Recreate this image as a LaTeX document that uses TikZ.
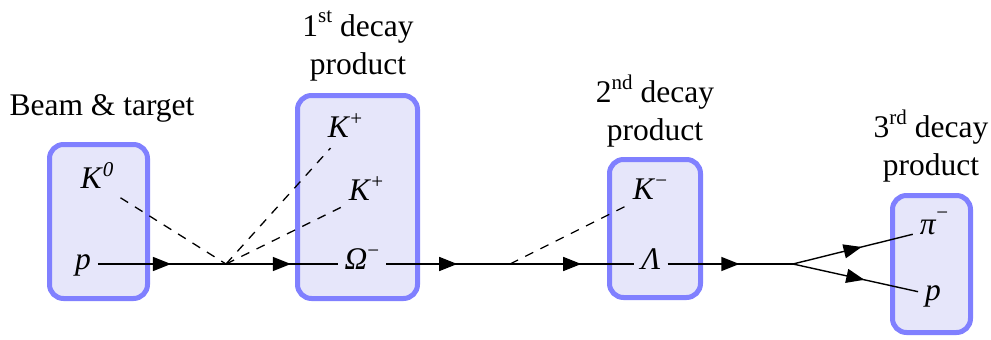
\documentclass[tikz,border=0pt]{standalone}
\usepackage{fontspec}
\setmainfont{Liberation Serif}
\usetikzlibrary{decorations.markings}
\definecolor{boxborder}{HTML}{8080FF}
\definecolor{boxfill}{HTML}{E6E6FA}
\newcommand\upsc[2][0.36em]{\raisebox{#1}{\fontsize{10.5}{12}\selectfont #2}}
\begin{document}
\begin{tikzpicture}[x=0.5pt,y=-0.5pt,
  every node/.style={font=\fontsize{15.75}{19}\selectfont},
  box/.style={draw=boxborder, fill=boxfill, line width=2.5pt, rounded corners=7pt, inner sep=0pt},
  particle/.style={text height=0.7em, text depth=0.2em, inner sep=0.3333em},
  fermion/.style={line width=0.7pt, postaction={decorate},
    decoration={markings, mark=at position 0.5 with {\fill (-4.5pt,-3.6pt) -- (4.5pt,0pt) -- (-4.5pt,3.6pt) -- cycle;}}},
  scalar/.style={line width=0.65pt, dash pattern=on 4.5pt off 4pt},
  title/.style={align=center}]
\useasboundingbox (0,0) rectangle (991,339);
% boxes
\node[box, minimum width=49pt, minimum height=77pt] (box1) at (98.5,221.5) {};
\node[box, minimum width=60pt, minimum height=101.5pt] (box2) at (357.5,197) {};
\node[box, minimum width=45.5pt, minimum height=69pt] (box3) at (655,228.5) {};
\node[box, minimum width=39pt, minimum height=68.5pt] (box4) at (931.5,264) {};
% titles
\node[anchor=base] (t0) at (102,115) {Beam \& target};
\node[title] (t1) at (358,46) {1\upsc[0.42em]{st} decay\\product};
\node[title] (t2) at (655,111) {2\upsc[0.42em]{nd} decay\\product};
\node[title] (t3) at (931,146) {3\upsc[0.42em]{rd} decay\\product};
% particles
\node[particle] (K0) at (97,183) {\textit{K}\upsc{\textit{0}}};
\node[particle] (p1) at (83,264) {\textit{p}};
\coordinate (v1) at (226,264);
\node[particle] (Kp1) at (345,132) {\textit{K}\upsc{+}};
\node[particle] (Kp2) at (366,195) {\textit{K}\upsc{+}};
\node[particle] (Om) at (362,264) {\textit{Ω}\upsc{−}};
\coordinate (v2) at (510,264);
\node[particle] (Km) at (650,194) {\textit{K}\upsc{−}};
\node[particle] (La) at (651,264) {\textit{Λ}};
\coordinate (v3) at (793,264);
\node[particle] (pim) at (934,229) {\textit{π}\upsc[0.45em]{−}};
\node[particle] (p2) at (933,295) {\textit{p}};
% connectors
\draw[scalar] (K0) -- (v1);
\draw[scalar] (v1) -- (Kp1);
\draw[scalar] (v1) -- (Kp2);
\draw[scalar] (v2) -- (Km);
\draw[fermion] (p1) -- (v1);
\draw[fermion] (v1) -- (Om);
\draw[fermion] (Om) -- (v2);
\draw[fermion] (v2) -- (La);
\draw[fermion] (La) -- (v3);
\draw[fermion] (v3) -- (pim);
\draw[fermion] (v3) -- (p2);
\end{tikzpicture}
\end{document}
